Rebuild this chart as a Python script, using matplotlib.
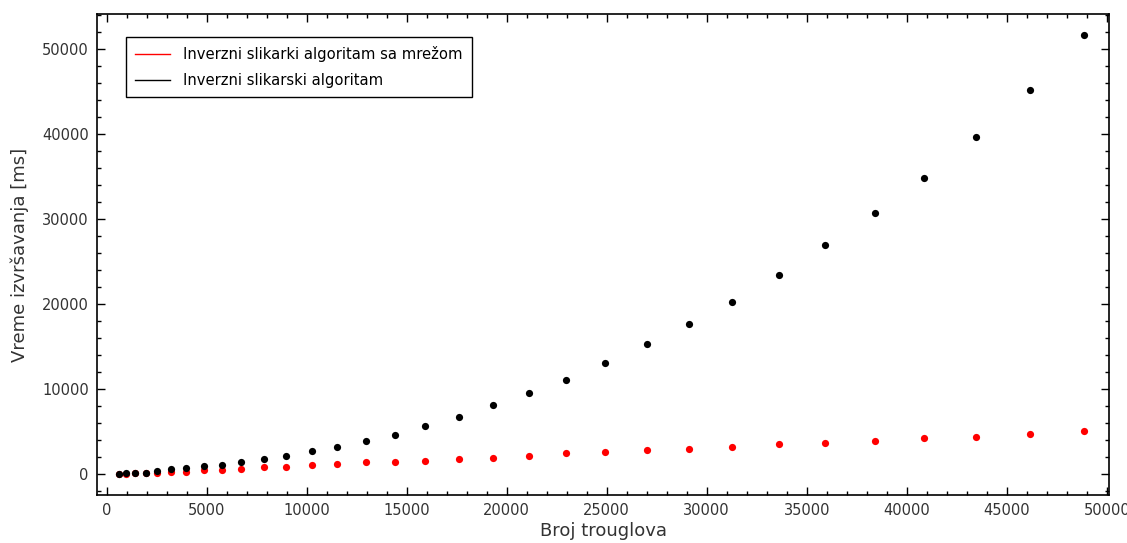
import matplotlib.pyplot as plt
from matplotlib.ticker import MultipleLocator

# broj trouglova (x) i vreme izvrsavanja u ms (y)
triangles = [630, 965, 1415, 1950, 2515, 3215, 3950, 4850, 5750, 6700,
             7865, 8965, 10265, 11530, 12950, 14430, 15930, 17600, 19300, 21100,
             22965, 24915, 27000, 29100, 31280, 33600, 35930, 38400, 40865, 43480,
             46180, 48880]
time_grid = [0, 20, 120, 120, 120, 310, 310, 510, 510, 660,
             890, 890, 1060, 1210, 1450, 1450, 1600, 1770, 1950, 2150,
             2470, 2660, 2860, 3010, 3210, 3570, 3720, 3920, 4240, 4420,
             4780, 5130]
time_plain = [40, 150, 190, 190, 390, 590, 780, 940, 1130, 1480,
              1800, 2150, 2710, 3210, 3920, 4590, 5680, 6740, 8150, 9570,
              11130, 13090, 15370, 17680, 20310, 23480, 27010, 30740, 34890, 39720,
              45210, 51720]

labels = ['Inverzni slikarki algoritam sa mrežom', 'Inverzni slikarski algoritam']

fig = plt.figure(figsize=(11.27, 5.43), dpi=100)
ax = fig.add_axes([0.0861, 0.0884, 0.8982, 0.8858])

ax.plot(triangles, time_grid, 'o', color='#ff0000', markersize=5.2, markeredgewidth=0)
ax.plot(triangles, time_plain, 'o', color='black', markersize=5.2, markeredgewidth=0)

# legenda sa linijama umesto tacaka
ax.plot([], [], '-', color='#ff0000', lw=1, label=labels[0])
ax.plot([], [], '-', color='black', lw=1, label=labels[1])

ax.set_xlim(-485, 50130)
ax.set_ylim(-2435, 54150)

ax.xaxis.set_major_locator(MultipleLocator(5000))
ax.xaxis.set_minor_locator(MultipleLocator(1000))
ax.yaxis.set_major_locator(MultipleLocator(10000))
ax.yaxis.set_minor_locator(MultipleLocator(2000))

ax.tick_params(which='both', direction='in', top=True, right=True,
               labelsize=10.5, labelcolor='#333333', width=1)
ax.tick_params(which='major', length=6, pad=6)
ax.tick_params(which='minor', length=3)
for s in ax.spines.values():
    s.set_linewidth(1.2)

ax.set_xlabel('Broj trouglova', fontsize=13, color='#333333', labelpad=3)
ax.set_ylabel('Vreme izvršavanja [ms]', fontsize=13, color='#333333', labelpad=9)

handles, lbls = ax.get_legend_handles_labels()
leg = ax.legend(handles[-2:], lbls[-2:], loc='upper left', bbox_to_anchor=(0.0286, 0.952),
                borderaxespad=0, fancybox=False, edgecolor='black', fontsize=10.6,
                handlelength=2.4, handletextpad=0.9, labelspacing=0.75,
                borderpad=0.6, framealpha=1)
leg.get_frame().set_linewidth(1)

fig.savefig('out.png', dpi=100)
